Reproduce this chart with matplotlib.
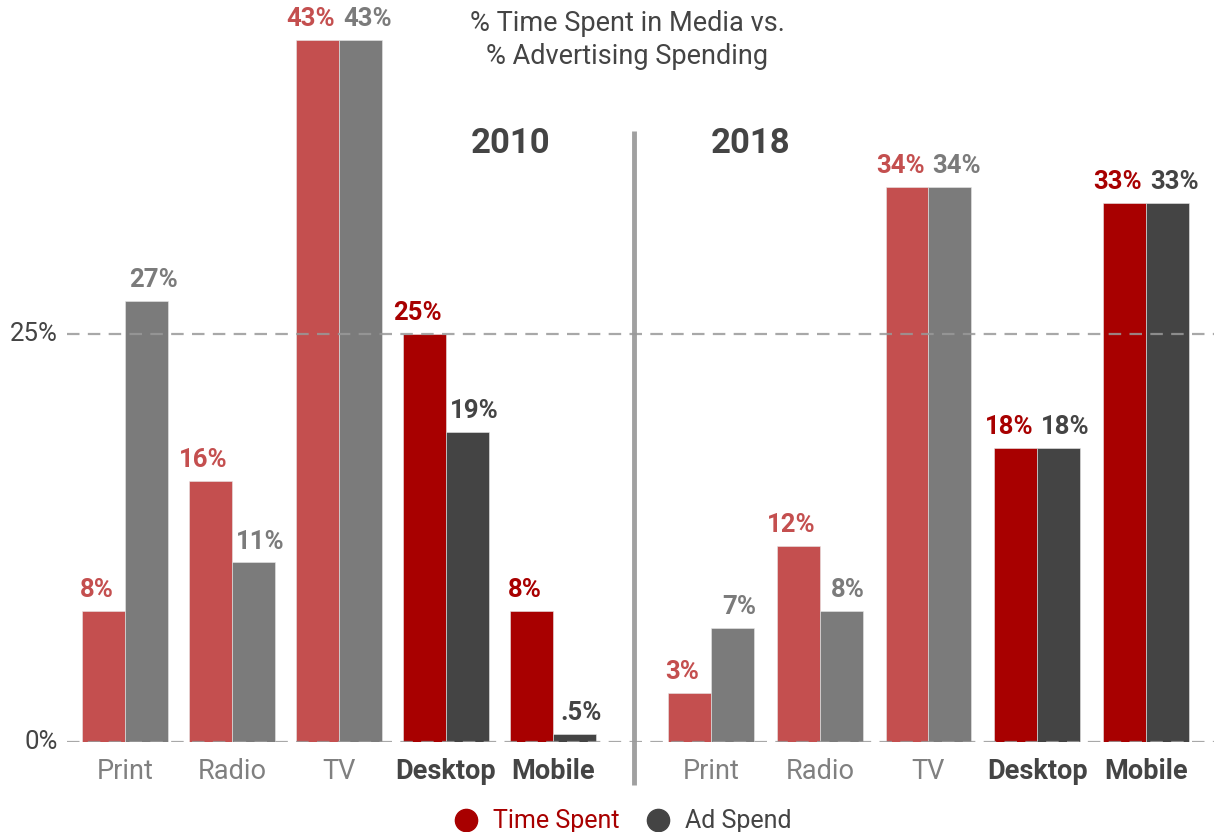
import matplotlib.pyplot as plt
import matplotlib.lines as mlines

plt.rcParams['font.family'] = ['Roboto', 'DejaVu Sans']
plt.rcParams['lines.scale_dashes'] = False

# data
categories = ["Print", "Radio", "TV", "Desktop", "Mobile"]
years = ["2010", "2018"]
time_spent = {"2010": [8, 16, 43, 25, 8], "2018": [3, 12, 34, 18, 33]}
ad_spend = {"2010": [27, 11, 43, 19, 0.5], "2018": [7, 8, 34, 18, 33]}
value_labels_time = {"2010": ["8%", "16%", "43%", "25%", "8%"],
                     "2018": ["3%", "12%", "34%", "18%", "33%"]}
value_labels_ad = {"2010": ["27%", "11%", "43%", "19%", ".5%"],
                   "2018": ["7%", "8%", "34%", "18%", "33%"]}
digital = ["Desktop", "Mobile"]
y_ticks = [0, 25]
y_tick_labels = ["0%", "25%"]

# colours
RED_LIGHT = "#c44f4f"
RED_DARK = "#a80000"
GREY_LIGHT = "#7b7b7b"
GREY_DARK = "#444444"
TEXT = "#444444"

W, H = 1214, 832
fig = plt.figure(figsize=(W / 100, H / 100), dpi=100)

# axes: left edge at px 67, bottom (0%) at px 742, 1% = 16.32 px
ax = fig.add_axes([67 / W, 1 - 742 / H, 1 - 67 / W, 742 / H])
px_per_unit = 107.0
x0 = -(125 - 67) / px_per_unit
x1 = x0 + (W - 67) / px_per_unit
ax.set_xlim(x0, x1)
ax.set_ylim(0, 742 / 16.32)
ax.axis('off')

bw = 0.4
offsets = {"2010": 0.0, "2018": 5.477}
steps = {"2010": 1.0, "2018": 1.016}
lab_shift = 0.065  # value labels sit a little outward of their bar

for yr in years:
    for i, cat in enumerate(categories):
        xc = offsets[yr] + i * steps[yr]
        is_dig = cat in digital
        c_t = RED_DARK if is_dig else RED_LIGHT
        c_a = GREY_DARK if is_dig else GREY_LIGHT
        t = time_spent[yr][i]
        a = ad_spend[yr][i]
        ax.bar(xc - bw / 2, t, width=bw, color=c_t, edgecolor='#e8e8e8', linewidth=0.4, zorder=2)
        ax.bar(xc + bw / 2, a, width=bw, color=c_a, edgecolor='#e8e8e8', linewidth=0.4, zorder=2)
        ax.text(xc - bw / 2 - lab_shift, t + 0.55, value_labels_time[yr][i], ha='center',
                va='bottom', fontsize=18.5, fontweight='bold', color=c_t, clip_on=False)
        ax.text(xc + bw / 2 + lab_shift, a + 0.55, value_labels_ad[yr][i], ha='center',
                va='bottom', fontsize=18.5, fontweight='bold', color=c_a, clip_on=False)
        ax.text(xc, -0.95, cat, ha='center', va='top', fontsize=19.5,
                fontweight='bold' if is_dig else 'normal',
                color=GREY_DARK if is_dig else "#808080", clip_on=False)
    ax.text(offsets[yr] + (3.6 if yr == "2010" else 0.37), 36.7, yr, ha='center',
            va='center', fontsize=25, fontweight='bold', color=TEXT)

# dashed gridlines on top of the bars
for yv in y_ticks:
    ln = ax.axhline(yv, color='#999999', linewidth=1.6, alpha=0.85, zorder=3)
    ln.set_dashes((9, 6))

for yv, lab in zip(y_ticks, y_tick_labels):
    ax.text(x0 - 9 / px_per_unit, yv, lab, ha='right', va='center', fontsize=18.5,
            color=TEXT, clip_on=False)

# separator between the years
sep_x = (634 - 125) / px_per_unit
ax.plot([sep_x, sep_x], [(742 - 131) / 16.32, (742 - 785) / 16.32], color='#a0a0a0',
        linewidth=3.5, solid_capstyle='butt', clip_on=False, zorder=1)

# title
fig.text(627 / W, 1 - 40 / H, "% Time Spent in Media vs.\n% Advertising Spending",
         ha='center', va='center', fontsize=19.5, color=TEXT, linespacing=1.25)

# legend
fig.text(493 / W, 1 - 821 / H, "Time Spent", ha='left', va='center', fontsize=18, color=RED_DARK)
fig.text(685 / W, 1 - 821 / H, "Ad Spend", ha='left', va='center', fontsize=18, color=TEXT)
fig.add_artist(mlines.Line2D([466 / W], [1 - 820 / H], marker='o', markersize=16,
                             color=RED_DARK, linestyle='none'))
fig.add_artist(mlines.Line2D([658 / W], [1 - 820 / H], marker='o', markersize=16,
                             color=GREY_DARK, linestyle='none'))

fig.savefig("out.png", dpi=100)
